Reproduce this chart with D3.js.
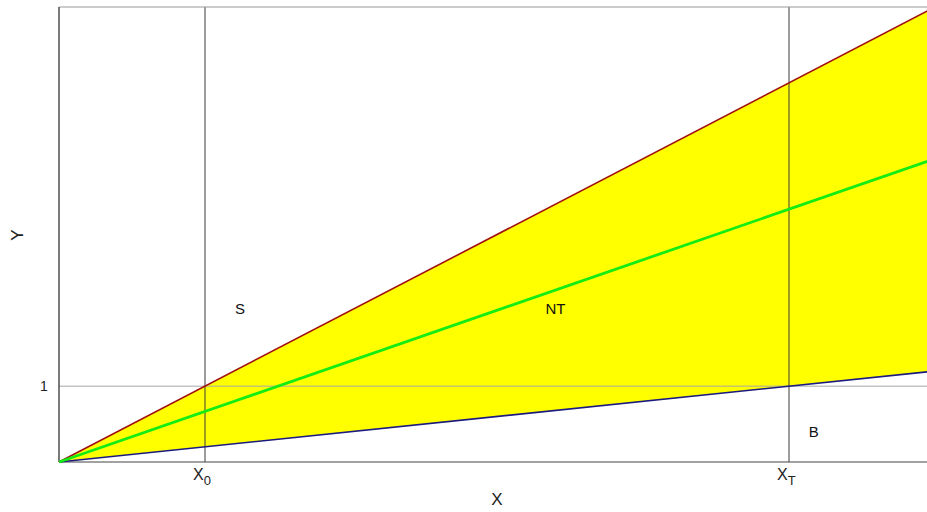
<!DOCTYPE html>
<html>
<head>
<meta charset="utf-8">
<script src="https://cdn.jsdelivr.net/npm/d3@7"></script>
<style>
  html, body { margin: 0; padding: 0; background: #fff; }
  svg { display: block; font-family: "Liberation Sans", Arial, Helvetica, sans-serif; }
</style>
</head>
<body>
<svg id="chart" width="927" height="512"></svg>
<script>
// Domain extents of the diagram
const xDomain = [0, 6];
const yDomain = [0, 6];

// Reference marks: vertical lines at X0 and XT, horizontal line at Y = 1
const xMarks = [
  { value: 1, label: "X", sub: "0" },
  { value: 5, label: "X", sub: "T" }
];
const yMarks = [{ value: 1, label: "1" }];

// Three rays through the origin: Y = slope * X
const upperSlope = 1;      // S / NT boundary (passes through X0, 1)
const middleSlope = 2 / 3; // centre line inside NT
const lowerSlope = 0.2;    // NT / B boundary (passes through XT, 1)
const rayX = [0, 6];

// Region labels
const regions = [
  { name: "S",  x: 1.24, y: 2.0 },
  { name: "NT", x: 3.4,  y: 2.0 },
  { name: "B",  x: 5.17, y: 0.38 }
];

const svg = d3.select("#chart");
const margin = { left: 59, top: 7, bottom: 50 };
const plotW = 876;
const plotH = 512 - margin.top - margin.bottom;

const x = d3.scaleLinear().domain(xDomain).range([margin.left, margin.left + plotW]);
const y = d3.scaleLinear().domain(yDomain).range([margin.top + plotH, margin.top]);

const g = svg.append("g");

// Filled wedge between the upper and lower rays
const area = d3.area()
  .x(d => x(d))
  .y0(d => y(lowerSlope * d))
  .y1(d => y(upperSlope * d));
g.append("path").datum(rayX).attr("d", area).attr("fill", "#ffff00");

// Horizontal reference line at Y = 1
g.selectAll(".hmark").data(yMarks).enter().append("line")
  .attr("x1", x(xDomain[0])).attr("x2", x(xDomain[1]))
  .attr("y1", d => y(d.value)).attr("y2", d => y(d.value))
  .attr("stroke", "#a8a8a8").attr("stroke-width", 1);

// Vertical reference lines
g.selectAll(".vmark").data(xMarks).enter().append("line")
  .attr("x1", d => x(d.value)).attr("x2", d => x(d.value))
  .attr("y1", y(yDomain[0])).attr("y2", y(yDomain[1]))
  .attr("stroke", "#3a3a3a").attr("stroke-width", 1);

// Frame
g.append("line").attr("x1", x(0)).attr("x2", x(xDomain[1])).attr("y1", y(yDomain[1])).attr("y2", y(yDomain[1]))
  .attr("stroke", "#999").attr("stroke-width", 1);
g.append("line").attr("x1", x(0)).attr("x2", x(xDomain[1])).attr("y1", y(0)).attr("y2", y(0))
  .attr("stroke", "#444").attr("stroke-width", 1);
g.append("line").attr("x1", x(0)).attr("x2", x(0)).attr("y1", y(0)).attr("y2", y(yDomain[1]))
  .attr("stroke", "#333").attr("stroke-width", 1.3);

// Rays
const ray = s => d3.line().x(d => x(d)).y(d => y(s * d))(rayX);
g.append("path").attr("d", ray(lowerSlope)).attr("fill", "none").attr("stroke", "#1a1a80").attr("stroke-width", 1.6);
g.append("path").attr("d", ray(upperSlope)).attr("fill", "none").attr("stroke", "#a01010").attr("stroke-width", 1.6);
g.append("path").attr("d", ray(middleSlope)).attr("fill", "none").attr("stroke", "#14ec14").attr("stroke-width", 2.8);

// Tick labels on the X axis
const xt = g.selectAll(".xt").data(xMarks).enter().append("text")
  .attr("x", d => x(d.value) - 12).attr("y", y(0) + 18)
  .attr("font-size", 16).attr("fill", "#222");
xt.append("tspan").text(d => d.label);
xt.append("tspan").attr("dy", 5).attr("font-size", 13).text(d => d.sub);

// Tick label on the Y axis
g.selectAll(".yt").data(yMarks).enter().append("text")
  .attr("x", x(0) - 15).attr("y", d => y(d.value) + 5)
  .attr("text-anchor", "middle").attr("font-size", 14).attr("fill", "#222")
  .text(d => d.label);

// Axis titles
g.append("text").attr("x", 497).attr("y", 505).attr("text-anchor", "middle")
  .attr("font-size", 17).attr("fill", "#222").text("X");
g.append("text").attr("transform", "translate(23,235) rotate(-90)").attr("text-anchor", "middle")
  .attr("font-size", 17).attr("fill", "#222").text("Y");

// Region labels
g.selectAll(".region").data(regions).enter().append("text")
  .attr("x", d => x(d.x)).attr("y", d => y(d.y))
  .attr("text-anchor", "middle").attr("dominant-baseline", "middle")
  .attr("font-size", 15).attr("fill", "#111")
  .text(d => d.name);
</script>
</body>
</html>
